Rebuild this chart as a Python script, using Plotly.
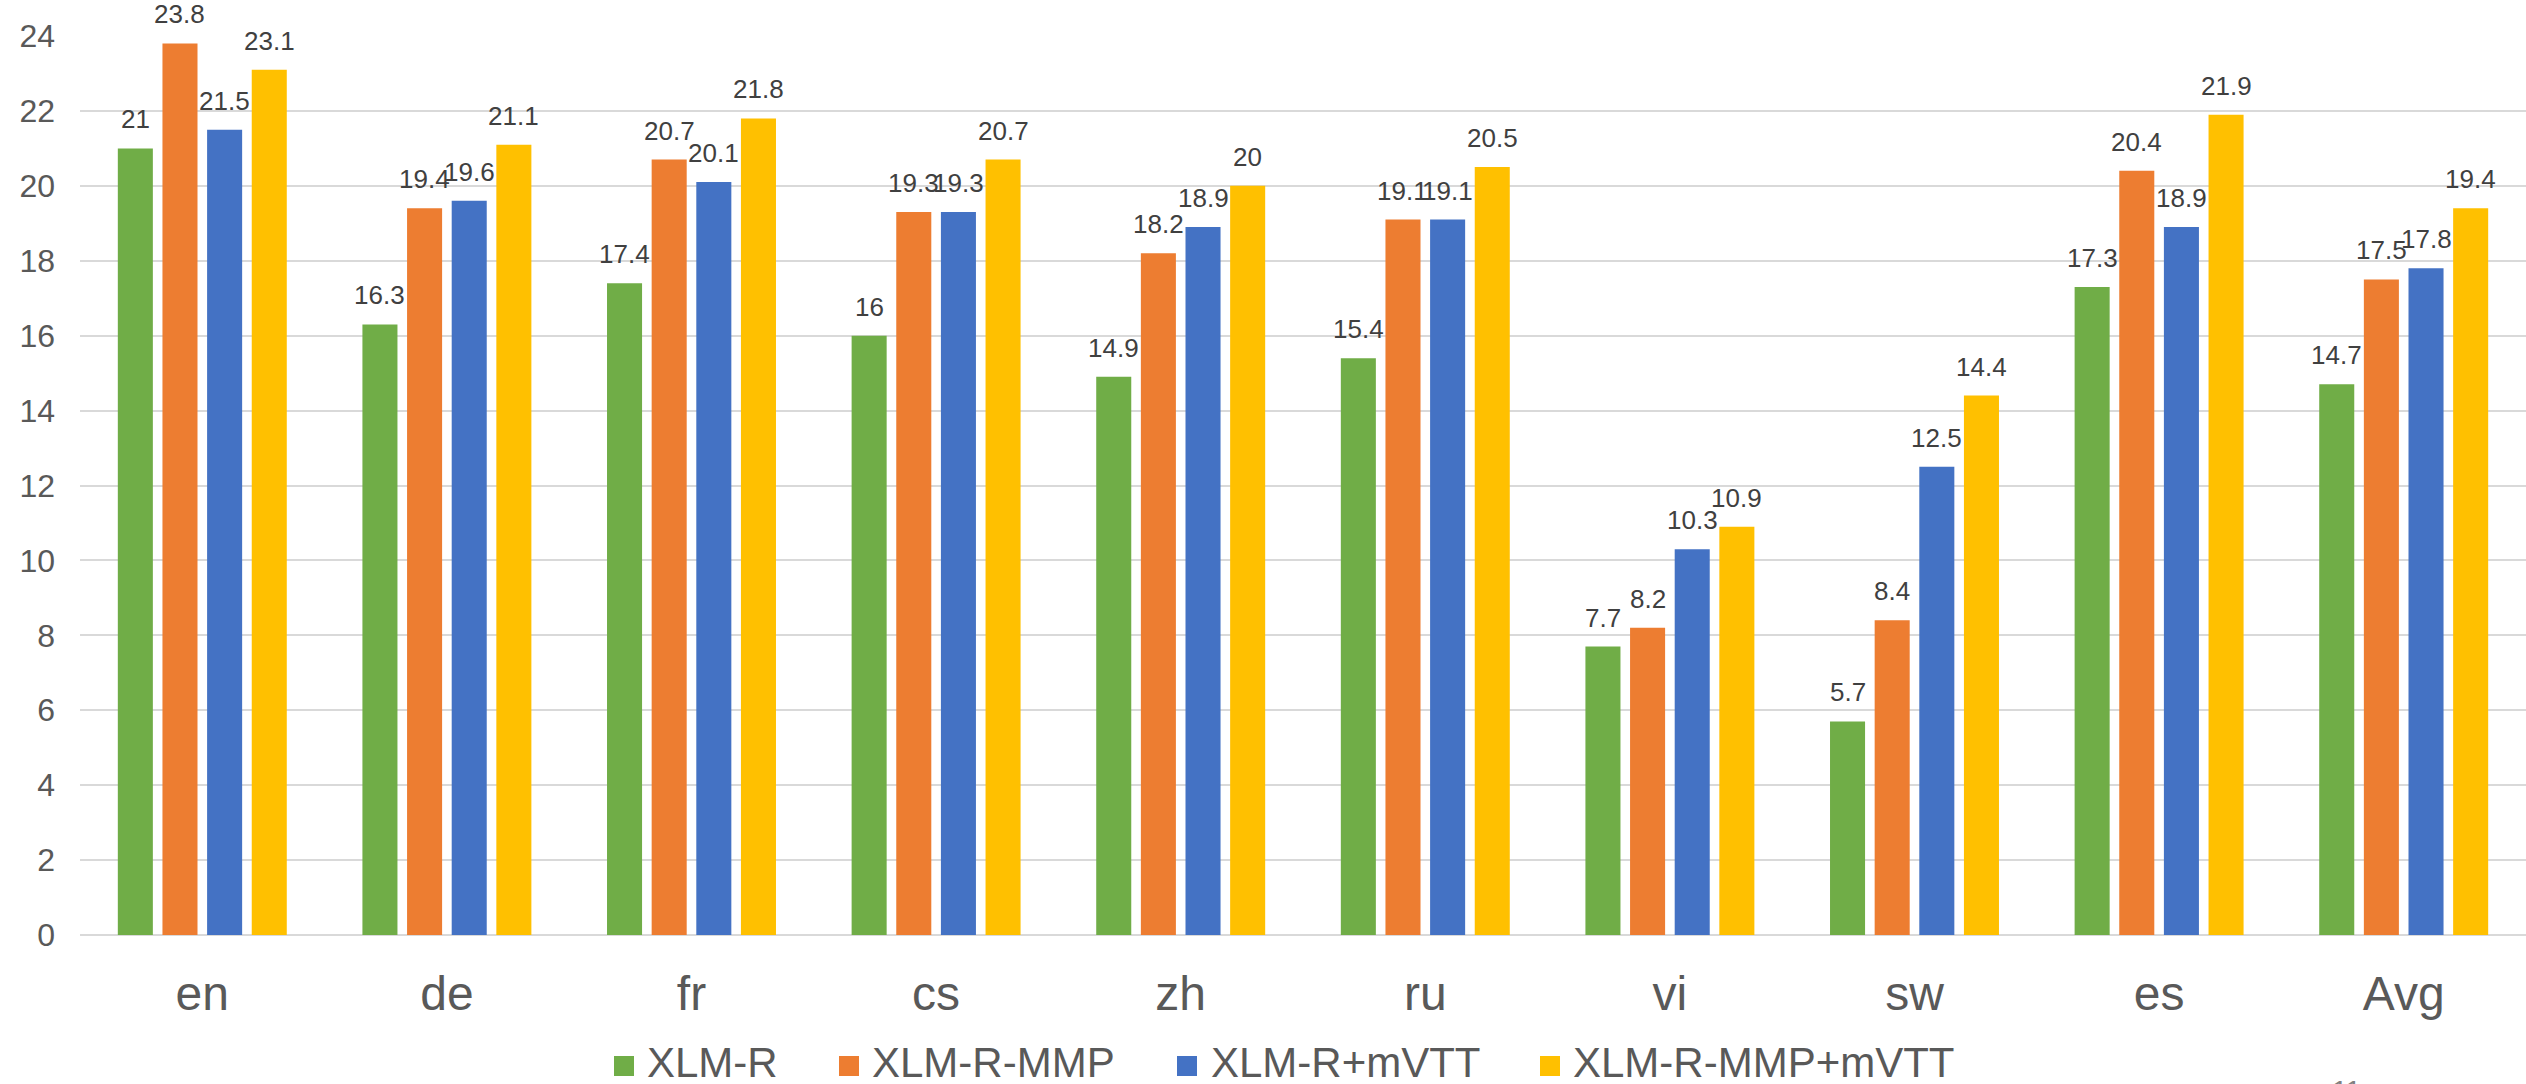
import plotly.graph_objects as go

# Scores per language for each model variant
languages = ["en", "de", "fr", "cs", "zh", "ru", "vi", "sw", "es", "Avg"]
xlmr = [21, 16.3, 17.4, 16, 14.9, 15.4, 7.7, 5.7, 17.3, 14.7]
xlmr_mmp = [23.8, 19.4, 20.7, 19.3, 18.2, 19.1, 8.2, 8.4, 20.4, 17.5]
xlmr_mvtt = [21.5, 19.6, 20.1, 19.3, 18.9, 19.1, 10.3, 12.5, 18.9, 17.8]
xlmr_mmp_mvtt = [23.1, 21.1, 21.8, 20.7, 20, 20.5, 10.9, 14.4, 21.9, 19.4]

series_names = ["XLM-R", "XLM-R-MMP", "XLM-R+mVTT", "XLM-R-MMP+mVTT"]
series_values = [xlmr, xlmr_mmp, xlmr_mvtt, xlmr_mmp_mvtt]
series_colors = ["#70AD47", "#ED7D31", "#4472C4", "#FFC000"]

y_ticks = list(range(0, 25, 2))

FONT = "Liberation Sans, Arial, sans-serif"

# Figure geometry
WIDTH, HEIGHT = 2526, 1084
M_L, M_R, M_T, M_B = 80, 0, 36, 149
BAR_GAP, BAR_GROUP_GAP = 0.27, 0.215
PLOT_W = WIDTH - M_L - M_R
PLOT_H = HEIGHT - M_T - M_B
CAT_W = PLOT_W / len(languages)
SLOT_W = CAT_W * (1 - BAR_GAP) / len(series_names)


def paper_x(px):
    return (px - M_L) / PLOT_W


def paper_y(py):
    return (HEIGHT - M_B - py) / PLOT_H


fig = go.Figure()

# Grouped bars
for name, vals, color in zip(series_names, series_values, series_colors):
    fig.add_trace(go.Bar(
        x=languages, y=vals, name=name,
        marker=dict(color=color, line=dict(width=0)),
        showlegend=False,
    ))

# Value labels above each bar
n = len(series_names)
for i, vals in enumerate(series_values):
    for lang, v in zip(languages, vals):
        fig.add_annotation(
            x=lang, y=v, text=f"{v:g}",
            xshift=(i - (n - 1) / 2) * SLOT_W, yshift=12,
            xanchor="center", yanchor="bottom", showarrow=False,
            font=dict(family=FONT, size=26, color="#404040"),
        )

# Legend row: square swatch + label
legend_swatch_px = [624, 849, 1187, 1550]
legend_text_px = [646, 871, 1210, 1572]
for name, color, sx, tx in zip(series_names, series_colors, legend_swatch_px, legend_text_px):
    fig.add_shape(
        type="rect", xref="paper", yref="paper",
        xsizemode="pixel", ysizemode="pixel",
        xanchor=paper_x(sx), yanchor=paper_y(1066),
        x0=-10, x1=10, y0=-10, y1=10,
        fillcolor=color, line=dict(width=0),
    )
    fig.add_annotation(
        text=name, xref="paper", yref="paper",
        x=paper_x(tx), y=paper_y(1062), xanchor="left", yanchor="middle",
        showarrow=False, borderpad=0,
        font=dict(family=FONT, size=42, color="#595959"),
    )

# Page number at the bottom right
fig.add_annotation(
    text="11", xref="paper", yref="paper", x=paper_x(2346), y=paper_y(1073),
    xanchor="center", yanchor="top", showarrow=False,
    font=dict(family=FONT, size=28, color="#808080"),
)

fig.update_layout(
    width=WIDTH, height=HEIGHT,
    margin=dict(l=M_L, r=M_R, t=M_T, b=M_B, autoexpand=False),
    paper_bgcolor="white", plot_bgcolor="white",
    barmode="group", bargap=BAR_GAP, bargroupgap=BAR_GROUP_GAP,
    font=dict(family=FONT, color="#595959"),
    showlegend=False,
    xaxis=dict(
        type="category", showgrid=False, showline=False, ticks="",
        tickfont=dict(family=FONT, size=48, color="#595959"),
        ticklabelstandoff=26,
    ),
    yaxis=dict(
        range=[0, 24], tickvals=y_ticks, ticks="",
        showgrid=True, gridcolor="#D9D9D9", gridwidth=2,
        zeroline=True, zerolinecolor="#D9D9D9", zerolinewidth=2,
        showline=False,
        tickfont=dict(family=FONT, size=32, color="#595959"),
        ticklabelstandoff=24,
    ),
)

fig.write_html("out.html")
